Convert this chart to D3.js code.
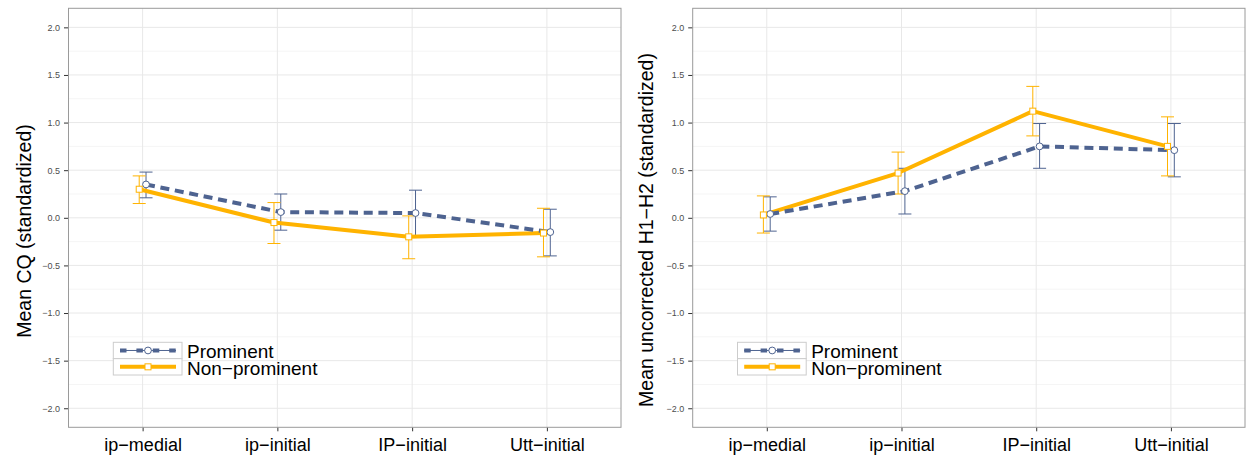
<!DOCTYPE html>
<html>
<head>
<meta charset="utf-8">
<script src="https://cdn.jsdelivr.net/npm/d3@7"></script>
<style>
  html, body { margin: 0; padding: 0; background: #fff; }
  svg { display: block; font-family: "Liberation Sans", Arial, Helvetica, sans-serif; }
</style>
</head>
<body>
<svg id="chart" width="1248" height="457"></svg>
<script>
// ---- data ----
const categories = ["ip\u2212medial", "ip\u2212initial", "IP\u2212initial", "Utt\u2212initial"];
const seriesNames = ["Prominent", "Non\u2212prominent"];
const yTicks = [-2.0, -1.5, -1.0, -0.5, 0.0, 0.5, 1.0, 1.5, 2.0];
const yMinorTicks = [-1.75, -1.25, -0.75, -0.25, 0.25, 0.75, 1.25, 1.75];

// Left panel: Mean CQ
const cqProm   = [0.35, 0.06, 0.05, -0.15];
const cqPromLo = [0.21, -0.13, -0.19, -0.40];
const cqPromHi = [0.48, 0.25, 0.29, 0.09];
const cqNon    = [0.30, -0.05, -0.20, -0.16];
const cqNonLo  = [0.15, -0.27, -0.43, -0.41];
const cqNonHi  = [0.44, 0.16, 0.02, 0.10];

// Right panel: Mean uncorrected H1-H2
const hProm   = [0.04, 0.28, 0.75, 0.71];
const hPromLo = [-0.14, 0.04, 0.52, 0.43];
const hPromHi = [0.22, 0.52, 0.99, 0.99];
const hNon    = [0.03, 0.47, 1.12, 0.75];
const hNonLo  = [-0.16, 0.25, 0.86, 0.44];
const hNonHi  = [0.23, 0.69, 1.38, 1.06];

// ---- styles ----
const BLUE = "#4e6390";
const ORANGE = "#ffb300";
const svg = d3.select("#chart");

function fmt(v) {
  const s = d3.format(".1f")(Math.abs(v));
  return (v < 0 ? "\u2212" : "") + s;
}

function drawPanel(cfg) {
  const g = svg.append("g");
  const x = d3.scalePoint().domain(categories).range([cfg.x0, cfg.x1]).padding(0.55);
  const y = d3.scaleLinear().domain([-2.2, 2.2]).range([cfg.y1, cfg.y0]);
  const dodge = 3.4;

  // grid
  g.selectAll(".minor").data(yMinorTicks).join("line")
    .attr("x1", cfg.x0).attr("x2", cfg.x1)
    .attr("y1", d => y(d)).attr("y2", d => y(d))
    .attr("stroke", "#f5f5f5").attr("stroke-width", 1);
  g.selectAll(".major").data(yTicks).join("line")
    .attr("x1", cfg.x0).attr("x2", cfg.x1)
    .attr("y1", d => y(d)).attr("y2", d => y(d))
    .attr("stroke", "#e8e8e8").attr("stroke-width", 1);
  g.selectAll(".vgrid").data(categories).join("line")
    .attr("x1", d => x(d)).attr("x2", d => x(d))
    .attr("y1", cfg.y0).attr("y2", cfg.y1)
    .attr("stroke", "#e8e8e8").attr("stroke-width", 1);

  // axes
  const yAxis = d3.axisLeft(y).tickValues(yTicks).tickFormat(fmt).tickSize(4.5).tickPadding(4);
  const ya = g.append("g").attr("transform", `translate(${cfg.x0},0)`).call(yAxis);
  ya.select(".domain").remove();
  ya.selectAll(".tick line").attr("stroke", "#333");
  ya.selectAll(".tick text").attr("fill", "#4d4d4d").style("font-size", "9px")
    .style("font-family", '"Liberation Sans", Arial, sans-serif');

  const xAxis = d3.axisBottom(x).tickSize(4).tickPadding(7);
  const xa = g.append("g").attr("transform", `translate(0,${cfg.y1})`).call(xAxis);
  xa.select(".domain").remove();
  xa.selectAll(".tick line").attr("stroke", "#333");
  xa.selectAll(".tick text").attr("fill", "#000").style("font-size", "18px")
    .style("font-family", '"Liberation Sans", Arial, sans-serif');

  // panel border
  g.append("rect").attr("x", cfg.x0).attr("y", cfg.y0)
    .attr("width", cfg.x1 - cfg.x0).attr("height", cfg.y1 - cfg.y0)
    .attr("fill", "none").attr("stroke", "#9a9a9a").attr("stroke-width", 1);

  // y title
  g.append("text")
    .attr("transform", `translate(${cfg.titleX},${cfg.titleY}) rotate(-90)`)
    .attr("text-anchor", "middle")
    .style("font-size", "19.5px").attr("fill", "#000")
    .text(cfg.title);

  const series = [
    { name: seriesNames[0], v: cfg.prom, lo: cfg.promLo, hi: cfg.promHi, color: BLUE, off: dodge, dash: "9,5.7", shape: "circle" },
    { name: seriesNames[1], v: cfg.non, lo: cfg.nonLo, hi: cfg.nonHi, color: ORANGE, off: -dodge, dash: null, shape: "square" }
  ];

  // error bars
  series.forEach(s => {
    const eg = g.append("g");
    categories.forEach((c, i) => {
      const cx = x(c) + s.off;
      eg.append("line").attr("x1", cx).attr("x2", cx).attr("y1", y(s.lo[i])).attr("y2", y(s.hi[i]))
        .attr("stroke", s.color).attr("stroke-width", 1);
      [s.lo[i], s.hi[i]].forEach(v => {
        eg.append("line").attr("x1", cx - 6.5).attr("x2", cx + 6.5).attr("y1", y(v)).attr("y2", y(v))
          .attr("stroke", s.color).attr("stroke-width", 1);
      });
    });
  });

  // lines (orange first, blue on top)
  const line = d3.line().x((d, i) => x(categories[i]) + d.off).y(d => y(d.v));
  [series[1], series[0]].forEach(s => {
    const pts = s.v.map(v => ({ v, off: s.off }));
    g.append("path").attr("d", line(pts)).attr("fill", "none")
      .attr("stroke", s.color).attr("stroke-width", 4)
      .attr("stroke-dasharray", s.dash).attr("stroke-linejoin", "round");
  });

  // points
  series.forEach(s => {
    categories.forEach((c, i) => {
      const cx = x(c) + s.off, cy = y(s.v[i]);
      if (s.shape === "circle") {
        g.append("circle").attr("cx", cx).attr("cy", cy).attr("r", 3.4)
          .attr("fill", "#fff").attr("stroke", s.color).attr("stroke-width", 1);
      } else {
        g.append("rect").attr("x", cx - 3).attr("y", cy - 3).attr("width", 6).attr("height", 6)
          .attr("fill", "#fff").attr("stroke", s.color).attr("stroke-width", 1);
      }
    });
  });

  // legend
  const lx = cfg.x0 + 44.8, ly = 342.3, kw = 68.7, kh = 16.35;
  const lg = g.append("g");
  series.forEach((s, i) => {
    const ky = ly + i * kh;
    lg.append("rect").attr("x", lx).attr("y", ky).attr("width", kw).attr("height", kh)
      .attr("fill", "#fff").attr("stroke", "#cccccc").attr("stroke-width", 1);
    const cy = ky + kh / 2;
    const k0 = lx + 6.7, k1 = lx + kw - 6;
    const kc = (k0 + k1) / 2;
    if (s.shape === "circle") {
      lg.append("line").attr("x1", k0).attr("x2", k1).attr("y1", cy).attr("y2", cy)
        .attr("stroke", s.color).attr("stroke-width", 1);
      lg.append("line").attr("x1", k0).attr("x2", k1).attr("y1", cy).attr("y2", cy)
        .attr("stroke", s.color).attr("stroke-width", 4).attr("stroke-dasharray", "6.5,9.9");
      lg.append("circle").attr("cx", kc).attr("cy", cy).attr("r", 3.4)
        .attr("fill", "#fff").attr("stroke", s.color).attr("stroke-width", 1);
    } else {
      lg.append("line").attr("x1", k0).attr("x2", k1).attr("y1", cy).attr("y2", cy)
        .attr("stroke", s.color).attr("stroke-width", 4);
      lg.append("rect").attr("x", kc - 3).attr("y", cy - 3).attr("width", 6).attr("height", 6)
        .attr("fill", "#fff").attr("stroke", s.color).attr("stroke-width", 1);
    }
    lg.append("text").attr("x", lx + kw + 5).attr("y", ky + kh - 0.5)
      .style("font-size", "19px").attr("fill", "#000").text(s.name);
  });
}

drawPanel({
  x0: 68.5, x1: 621, y0: 8.3, y1: 427.3,
  title: "Mean CQ (standardized)", titleX: 30.5, titleY: 231,
  prom: cqProm, promLo: cqPromLo, promHi: cqPromHi,
  non: cqNon, nonLo: cqNonLo, nonHi: cqNonHi
});
drawPanel({
  x0: 692.7, x1: 1245, y0: 8.3, y1: 427.3,
  title: "Mean uncorrected H1\u2212H2 (standardized)", titleX: 653, titleY: 230,
  prom: hProm, promLo: hPromLo, promHi: hPromHi,
  non: hNon, nonLo: hNonLo, nonHi: hNonHi
});
</script>
</body>
</html>
